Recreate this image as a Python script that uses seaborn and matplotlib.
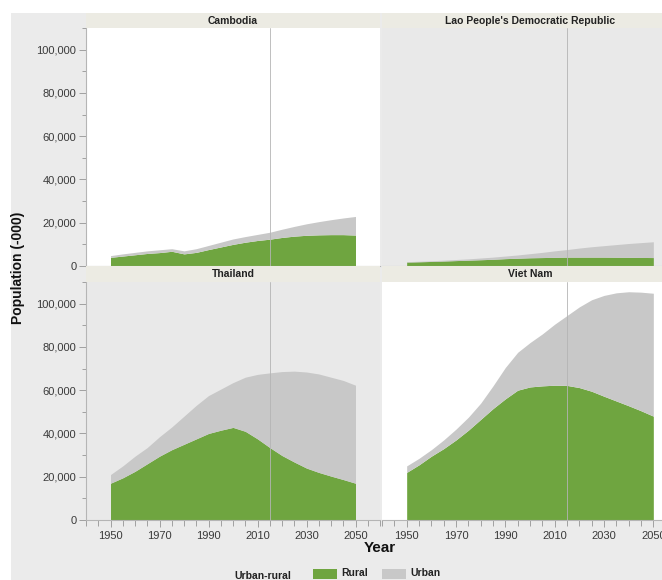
import matplotlib
matplotlib.use("Agg")
import matplotlib.pyplot as plt
import numpy as np
import pandas as pd
import seaborn as sns
from matplotlib.patches import Rectangle
from matplotlib.ticker import FixedLocator, FuncFormatter

# Population by urban/rural residence, thousands, 1950-2050 (5-year steps)
years = list(range(1950, 2051, 5))
countries = ["Cambodia", "Lao People's Democratic Republic", "Thailand", "Viet Nam"]

cambodia_rural = [4000, 4600, 5200, 5800, 6200, 6800, 5600, 6300, 7600, 8800, 10000,
                  11000, 11800, 12400, 13200, 13800, 14200, 14400, 14500, 14500, 14300]
cambodia_urban = [800, 1000, 1100, 1200, 1300, 1200, 1400, 1700, 1900, 2200, 2500,
                  2600, 2800, 3200, 3800, 4500, 5300, 6100, 6900, 7700, 8600]

lao_rural = [1800, 1950, 2100, 2300, 2500, 2700, 2900, 3100, 3400, 3600, 3800,
             3900, 4000, 4100, 4100, 4100, 4100, 4050, 4000, 3950, 3900]
lao_urban = [200, 250, 300, 400, 500, 600, 800, 1000, 1200, 1500, 1900,
             2400, 3000, 3500, 4200, 4800, 5300, 5850, 6400, 6850, 7300]

thailand_rural = [17000, 19500, 22500, 26000, 29500, 32500, 35000, 37500, 40000, 41500, 42800,
                  41000, 37500, 33500, 29800, 26800, 24000, 22000, 20300, 18700, 17000]
thailand_urban = [4000, 5500, 7000, 7500, 9000, 10500, 13000, 15500, 17500, 19000, 20700,
                  25000, 29800, 34500, 38800, 42000, 44400, 45500, 45700, 45800, 45300]

vietnam_rural = [22000, 25500, 29500, 33000, 37000, 41500, 46500, 51500, 56000, 60000, 61500,
                 62000, 62300, 62200, 61200, 59500, 57200, 55000, 52800, 50500, 48000]
vietnam_urban = [3000, 3000, 3000, 4000, 5000, 6000, 7500, 10500, 14500, 17500, 20500,
                 24000, 28200, 32300, 37300, 42300, 46600, 50000, 52700, 54800, 56800]

rural = [cambodia_rural, lao_rural, thailand_rural, vietnam_rural]
urban = [cambodia_urban, lao_urban, thailand_urban, vietnam_urban]

rows = []
for c, rv, uv in zip(countries, rural, urban):
    for y, r, u in zip(years, rv, uv):
        rows.append({"country": c, "year": y, "rural": r, "urban": u})
df = pd.DataFrame(rows)

GREEN = "#6fa540"
GREY = "#c8c8c8"
STRIP = "#ecebe3"
BG = "#ebebeb"
PANEL = {"Cambodia": "white", "Lao People's Democratic Republic": "#e9e9e9",
         "Thailand": "#e9e9e9", "Viet Nam": "white"}

sns.set_theme(style="white")
plt.rcParams["font.family"] = ["Liberation Sans", "DejaVu Sans"]

g = sns.FacetGrid(df, col="country", col_wrap=2, col_order=countries,
                  height=2.9, aspect=1.14, sharex=True, sharey=True)


def stacked_area(data, **kws):
    ax = plt.gca()
    ax.stackplot(data["year"], data["rural"], data["urban"],
                 colors=[GREEN, GREY], linewidth=0, zorder=2)


g.map_dataframe(stacked_area)

fig = g.figure
fig.set_size_inches(6.62, 5.8)
fig.set_dpi(100)
W, H = 662.0, 580.0
fig.patch.set_facecolor("white")
fig.add_artist(Rectangle((11 / W, 0), 1, 1 - 13 / H, transform=fig.transFigure,
                         facecolor=BG, edgecolor="none", zorder=-5))

# panel boxes in pixels: (left, top, right, bottom)
boxes = [(86, 28, 380, 266), (382, 28, 678, 266),
         (86, 282, 380, 520), (382, 282, 678, 520)]

for i, (ax, name) in enumerate(zip(g.axes.flat, countries)):
    x0, y0, x1, y1 = boxes[i]
    ax.set_position([x0 / W, 1 - y1 / H, (x1 - x0) / W, (y1 - y0) / H])
    ax.set_facecolor(PANEL[name])
    ax.set_title("")
    ax.set_xlabel("")
    ax.set_ylabel("")
    ax.set_xlim(1940, 2060)
    ax.set_ylim(0, 110000)
    ax.axvline(2015, color="#b4b4b4", lw=0.6, zorder=3)

    for s in ["top", "right"]:
        ax.spines[s].set_visible(False)
    ax.spines["bottom"].set_color("#b5b5b5")
    ax.spines["bottom"].set_linewidth(0.8)
    left_col = i % 2 == 0
    bottom_row = i >= 2
    ax.spines["left"].set_visible(left_col)
    ax.spines["left"].set_color("#b5b5b5")
    ax.spines["left"].set_linewidth(0.8)

    ax.yaxis.set_major_locator(FixedLocator(list(range(0, 100001, 20000))))
    ax.yaxis.set_minor_locator(FixedLocator(list(range(10000, 110001, 20000))))
    ax.yaxis.set_major_formatter(FuncFormatter(lambda v, p: f"{int(v):,}"))
    ax.xaxis.set_major_locator(FixedLocator(list(range(1950, 2051, 20))))
    ax.xaxis.set_minor_locator(FixedLocator(list(range(1940, 2061, 5))))

    ax.tick_params(axis="y", which="both", left=left_col, labelleft=left_col,
                   direction="out", color="#a0a0a0", width=0.7, labelsize=8,
                   labelcolor="#3a3a3a", pad=2)
    ax.tick_params(axis="y", which="major", length=5)
    ax.tick_params(axis="y", which="minor", length=3)
    ax.tick_params(axis="x", which="both", bottom=bottom_row, labelbottom=bottom_row,
                   direction="out", color="#a0a0a0", width=0.7, labelsize=8,
                   labelcolor="#3a3a3a", pad=3)
    ax.tick_params(axis="x", which="major", length=5)
    ax.tick_params(axis="x", which="minor", length=4)

    # facet header strip
    sy0 = y0 - 15 if i < 2 else y0 - 16
    fig.add_artist(Rectangle((x0 / W, 1 - y0 / H), (x1 - x0) / W, (y0 - sy0) / H,
                             transform=fig.transFigure, facecolor=STRIP,
                             edgecolor="none", zorder=1))
    fig.text(((x0 + x1) / 2) / W, 1 - ((sy0 + y0) / 2) / H, name,
             ha="center", va="center", fontsize=7.5, fontweight="bold",
             color="#222222")

fig.text(18 / W, 1 - 268 / H, "Population (-000)", rotation=90, ha="center",
         va="center", fontsize=10, fontweight="bold", color="#111111")
fig.text(380 / W, 1 - 548 / H, "Year", ha="center", va="center",
         fontsize=11, fontweight="bold", color="#111111")

# legend
fig.text(263 / W, 1 - 576 / H, "Urban-rural", ha="center", va="center",
         fontsize=7.5, fontweight="bold", color="#222222")
for px, label, col in [(313, "Rural", GREEN), (382, "Urban", GREY)]:
    fig.add_artist(Rectangle((px / W, 1 - 579 / H), 24 / W, 10 / H,
                             transform=fig.transFigure, facecolor=col,
                             edgecolor="none"))
    fig.text((px + 28) / W, 1 - 573.5 / H, label, ha="left", va="center",
             fontsize=7.5, fontweight="bold", color="#222222")

fig.savefig("out.png", dpi=100)
